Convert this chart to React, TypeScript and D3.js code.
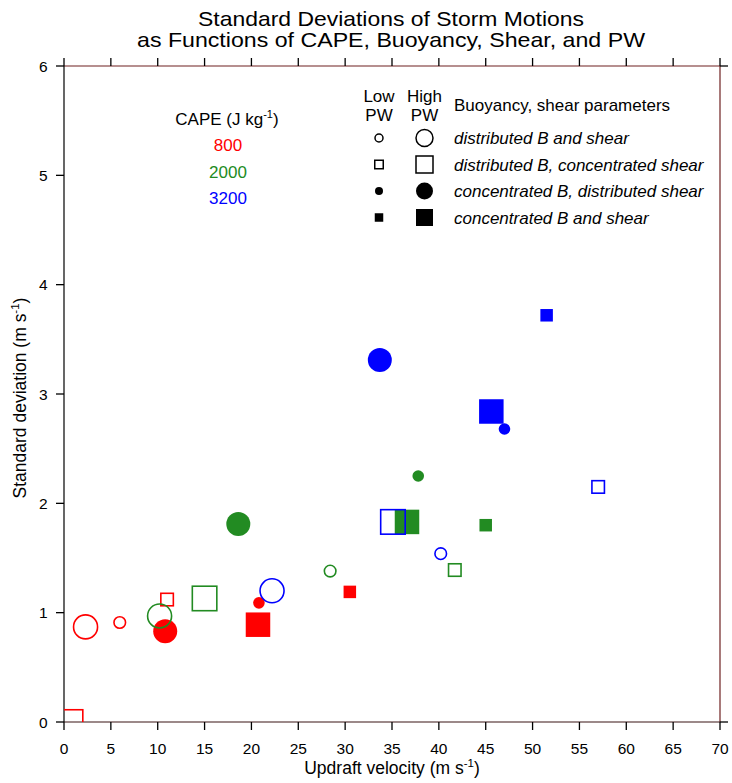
import React from "react";
import * as d3 from "d3";

// CAPE levels and colours
const capeLevels = [800, 2000, 3200];
const capeColors = ["#ff0000", "#228b22", "#0000ff"];

// marker kinds (legend order)
const markerKinds = [
  "distributed B and shear",
  "distributed B, concentrated shear",
  "concentrated B, distributed shear",
  "concentrated B and shear",
];

// point order per CAPE: for each marker kind -> [low PW, high PW]
const updraft800 = [5.95, 2.3, 11.0, 0.7, 20.8, 10.8, 30.5, 20.7];
const stdev800 = [0.91, 0.87, 1.12, 0.0, 1.09, 0.83, 1.19, 0.89];
const updraft2000 = [28.4, 10.2, 41.7, 15.0, 37.8, 18.6, 45.0, 36.6];
const stdev2000 = [1.38, 0.97, 1.39, 1.13, 2.25, 1.81, 1.8, 1.83];
const updraft3200 = [40.2, 22.2, 57.0, 35.1, 47.0, 33.7, 51.5, 45.6];
const stdev3200 = [1.54, 1.2, 2.15, 1.83, 2.68, 3.31, 3.72, 2.84];

const xTicks = d3.range(0, 71, 5);
const yTicks = [0, 1, 2, 3, 4, 5, 6];

const W = 732;
const H = 783;
const M = { left: 64, right: 720, top: 66, bottom: 722 };
const FONT = "'Liberation Sans', Arial, Helvetica, sans-serif";
const FRAME = "#6e2020";

type Pt = { x: number; y: number; kind: number; high: boolean; color: string };

const series = [
  { xs: updraft800, ys: stdev800 },
  { xs: updraft2000, ys: stdev2000 },
  { xs: updraft3200, ys: stdev3200 },
];

const points: Pt[] = [];
series.forEach((s, ci) => {
  s.xs.forEach((x, i) => {
    points.push({
      x,
      y: s.ys[i],
      kind: Math.floor(i / 2),
      high: i % 2 === 1,
      color: capeColors[ci],
    });
  });
});

const Marker = ({
  cx,
  cy,
  kind,
  high,
  color,
  legend = false,
}: {
  cx: number;
  cy: number;
  kind: number;
  high: boolean;
  color: string;
  legend?: boolean;
}) => {
  const filled = kind >= 2;
  const square = kind === 1 || kind === 3;
  const r = legend ? (high ? 8.5 : 4) : high ? 12 : 5.8;
  const side = legend ? (high ? 17 : 8.5) : high ? 24.5 : 12.5;
  const fill = filled ? color : "none";
  const stroke = filled ? "none" : color;
  const sw = legend ? 1.5 : 1.6;
  if (square) {
    return (
      <rect
        x={cx - side / 2}
        y={cy - side / 2}
        width={side}
        height={side}
        fill={fill}
        stroke={stroke}
        strokeWidth={sw}
      />
    );
  }
  return <circle cx={cx} cy={cy} r={r} fill={fill} stroke={stroke} strokeWidth={sw} />;
};

const App: React.FC = () => {
  const x = d3.scaleLinear().domain([0, 70]).range([M.left, M.right]);
  const y = d3.scaleLinear().domain([0, 6]).range([M.bottom, M.top]);

  const legX = 379;
  const legX2 = 424.5;
  const legRows = [138, 164.5, 191, 217.5];

  return (
    <svg
      width={W}
      height={H}
      style={{ position: "absolute", left: 0, top: 0, background: "#fff" }}
      fontFamily={FONT}
    >
      <defs>
        <clipPath id="plotClip">
          <rect x={M.left} y={M.top} width={M.right - M.left} height={M.bottom - M.top} />
        </clipPath>
      </defs>

      {/* Title */}
      <text x={391} y={26} textAnchor="middle" fontSize={21} textLength={386} lengthAdjust="spacingAndGlyphs">
        Standard Deviations of Storm Motions
      </text>
      <text x={391} y={47} textAnchor="middle" fontSize={21} textLength={508} lengthAdjust="spacingAndGlyphs">
        as Functions of CAPE, Buoyancy, Shear, and PW
      </text>

      {/* frame */}
      <line x1={M.left} x2={M.right} y1={M.top} y2={M.top} stroke={FRAME} strokeWidth={1.2} />
      <line x1={M.right} x2={M.right} y1={M.top} y2={M.bottom} stroke={FRAME} strokeWidth={1.2} />
      <line x1={M.left} x2={M.right} y1={M.bottom} y2={M.bottom} stroke="#3a1515" strokeWidth={1.2} />
      <line x1={M.left} x2={M.left} y1={M.top} y2={M.bottom} stroke="#000" strokeWidth={1.2} />

      {/* x ticks bottom and top */}
      {xTicks.map((t) => (
        <g key={"xt" + t}>
          <line x1={x(t)} x2={x(t)} y1={M.bottom} y2={M.bottom + 8} stroke="#000" strokeWidth={1.3} />
          <line x1={x(t)} x2={x(t)} y1={M.top} y2={M.top - 8} stroke="#000" strokeWidth={1.3} />
          <text x={x(t)} y={M.bottom + 32} textAnchor="middle" fontSize={15.5}>
            {t}
          </text>
        </g>
      ))}
      {/* y ticks */}
      {yTicks.map((t) => (
        <g key={"yt" + t}>
          <line x1={M.left - 8} x2={M.left} y1={y(t)} y2={y(t)} stroke="#000" strokeWidth={1.3} />
          <text x={M.left - 16.5} y={y(t) + 5.5} textAnchor="end" fontSize={15.5}>
            {t}
          </text>
        </g>
      ))}
      {/* right-side corner ticks */}
      {[0, 6].map((t) => (
        <line key={"rt" + t} x1={M.right} x2={M.right + 8} y1={y(t)} y2={y(t)} stroke="#000" strokeWidth={1.3} />
      ))}

      {/* axis titles */}
      <text x={392} y={774} textAnchor="middle" fontSize={17.5}>
        Updraft velocity (m s<tspan dy={-7} fontSize={11.5}>-1</tspan>
        <tspan dy={7}>)</tspan>
      </text>
      <text transform={`translate(26,398) rotate(-90)`} textAnchor="middle" fontSize={17.5}>
        Standard deviation (m s<tspan dy={-7} fontSize={11.5}>-1</tspan>
        <tspan dy={7}>)</tspan>
      </text>

      {/* data points */}
      <g clipPath="url(#plotClip)">
        {points.map((p, i) => (
          <Marker key={i} cx={x(p.x)} cy={y(p.y)} kind={p.kind} high={p.high} color={p.color} />
        ))}
      </g>

      {/* CAPE legend */}
      <text x={227} y={125} textAnchor="middle" fontSize={17}>
        CAPE (J kg<tspan dy={-7} fontSize={11}>-1</tspan>
        <tspan dy={7}>)</tspan>
      </text>
      {capeLevels.map((c, i) => (
        <text key={c} x={228} y={151 + i * 26.5} textAnchor="middle" fontSize={17} fill={capeColors[i]}>
          {c}
        </text>
      ))}

      {/* marker legend */}
      <text x={legX} y={102} textAnchor="middle" fontSize={17}>Low</text>
      <text x={legX} y={121} textAnchor="middle" fontSize={17}>PW</text>
      <text x={legX2} y={102} textAnchor="middle" fontSize={17}>High</text>
      <text x={legX2} y={121} textAnchor="middle" fontSize={17}>PW</text>
      <text x={454} y={111} fontSize={17}>Buoyancy, shear parameters</text>
      {markerKinds.map((k, i) => (
        <g key={k}>
          <Marker cx={legX} cy={legRows[i]} kind={i} high={false} color="#000" legend />
          <Marker cx={legX2} cy={legRows[i]} kind={i} high={true} color="#000" legend />
          <text x={454} y={legRows[i] + 6} fontSize={17} fontStyle="italic">
            {k}
          </text>
        </g>
      ))}
    </svg>
  );
};

export default App;
